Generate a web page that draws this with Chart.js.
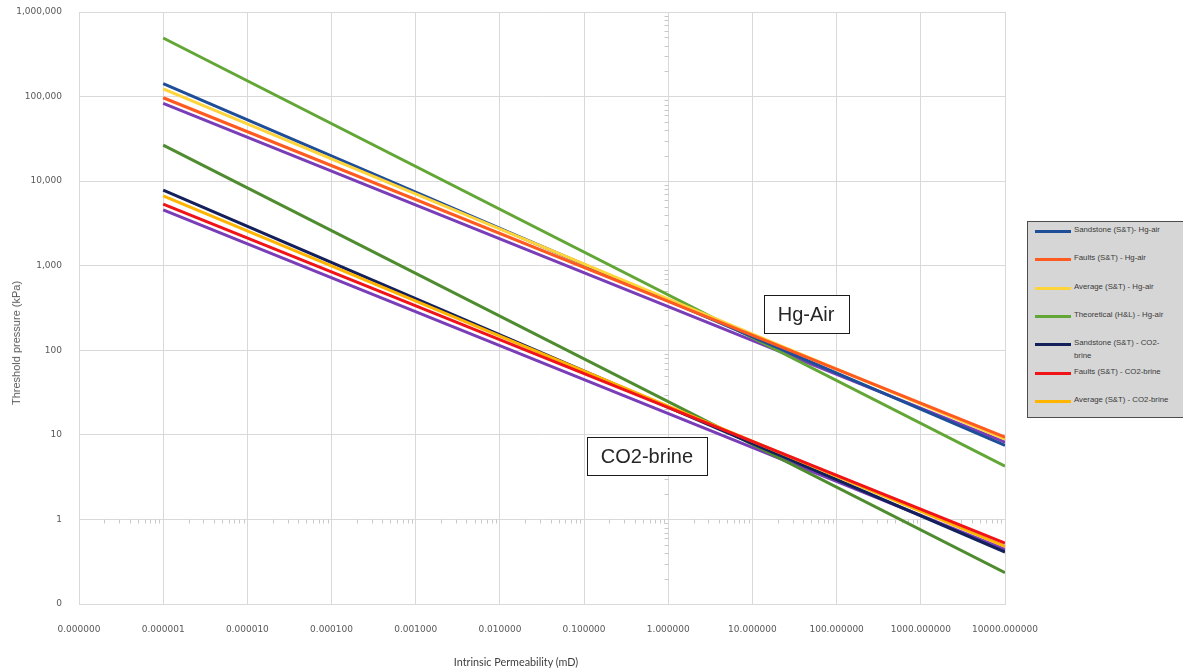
<!DOCTYPE html>
<html>
<head>
<meta charset="utf-8">
<script src="https://cdn.jsdelivr.net/npm/chart.js@4"></script>
<style>
  html, body { margin: 0; padding: 0; background: #fff; }
  #wrap { position: relative; width: 1183px; height: 672px; overflow: hidden; }
  #c { position: absolute; left: 0; top: 0; }
  .ytitle { position: absolute; left: 16px; top: 343px; transform: translate(-50%, -50%) rotate(-90deg);
            font-family: "Liberation Sans", Arial, sans-serif; font-size: 11px; color: #595959; white-space: nowrap; }
  .xtitle { position: absolute; left: 516px; top: 661px; transform: translate(-50%, -50%);
            font-family: "Lato", "Liberation Sans", sans-serif; font-size: 10.8px; color: #404040; white-space: nowrap; }
  #legend { position: absolute; left: 1027px; top: 221px; width: 175px; height: 197px; background: #d6d6d6;
            border: 1px solid #4d4d4d; box-sizing: border-box; font-family: "Liberation Sans", Arial, sans-serif; font-size: 7.8px; color: #3a3a3a; }
  .li { position: absolute; left: 7px; }
  .sw { position: absolute; left: 0; width: 36px; height: 3px; }
  .lt { position: absolute; left: 39px; white-space: nowrap; line-height: 13px; }
</style>
</head>
<body>
<div id="wrap">
  <canvas id="c" width="1183" height="672"></canvas>
  <div class="ytitle">Threshold pressure (kPa)</div>
  <div class="xtitle">Intrinsic Permeability (mD)</div>
  <div id="legend"></div>
</div>
<script>
// ---- data ----
const permeability = [0.000001, 10000];

const sandstoneHgAir   = [142600, 7.5];
const faultsHgAir      = [96800, 9.4];
const averageHgAir     = [123600, 8.9];
const theoreticalHgAir = [493000, 4.27];
const purpleHgAir      = [83000, 8.2];

const sandstoneCO2   = [7810, 0.412];
const faultsCO2      = [5340, 0.526];
const averageCO2     = [6690, 0.48];
const theoreticalCO2 = [26700, 0.235];
const purpleCO2      = [4570, 0.442];

const seriesLabels = [
  'Sandstone (S&T)- Hg-air',
  'Faults (S&T) - Hg-air',
  'Average (S&T) - Hg-air',
  'Theoretical (H&L) -  Hg-air',
  'Sandstone (S&T) - CO2-brine',
  'Faults (S&T) - CO2-brine',
  'Average (S&T) - CO2-brine',
  'Hg-air (other)',
  'Theoretical - CO2-brine',
  'CO2-brine (other)'
];

const xTickValues = [1e-7, 1e-6, 1e-5, 1e-4, 1e-3, 1e-2, 1e-1, 1, 10, 100, 1000, 10000];
const xTickLabels = ['0.000000', '0.000001', '0.000010', '0.000100', '0.001000', '0.010000',
                     '0.100000', '1.000000', '10.000000', '100.000000', '1000.000000', '10000.000000'];
const yTickValues = [0.1, 1, 10, 100, 1000, 10000, 100000, 1000000];
const yTickLabels = ['0', '1', '10', '100', '1,000', '10,000', '100,000', '1,000,000'];

const annotationTexts = ['Hg-Air', 'CO2-brine'];
const annotationX = [43.3, 0.558];
const annotationY = [268, 5.62];

// ---- build ----
const seriesValues = [sandstoneHgAir, faultsHgAir, averageHgAir, theoreticalHgAir,
                      sandstoneCO2, faultsCO2, averageCO2, purpleHgAir, theoreticalCO2, purpleCO2];
const seriesColors = ['#1F4E99', '#FF5A1F', '#FFD43B', '#62A635',
                      '#13205C', '#F01419', '#FFB400', '#7A3DB8', '#4F8C30', '#7A3DB8'];
const inLegend = [true, true, true, true, true, true, true, false, false, false];
const legendSplit = [null, null, null, null, 'CO2-', null, null, null, null, null];

const datasets = seriesValues.map((vals, i) => ({
  label: seriesLabels[i],
  data: vals.map((v, j) => ({ x: permeability[j], y: v })),
  borderColor: seriesColors[i],
  backgroundColor: seriesColors[i],
  borderWidth: 3,
  pointRadius: 0,
  fill: false,
  tension: 0
}));
const drawOrder = [7, 9, 8, 3, 0, 2, 1, 4, 6, 5];
datasets.forEach((d, i) => { d.order = 10 - drawOrder.indexOf(i); });

// HTML legend from dataset list
const legendEl = document.getElementById('legend');
let row = 0;
datasets.forEach((d, i) => {
  if (!inLegend[i]) return;
  const top = 8 + row * 28.3;
  const item = document.createElement('div');
  item.className = 'li';
  item.style.top = top + 'px';
  const sw = document.createElement('div');
  sw.className = 'sw';
  sw.style.background = d.borderColor;
  sw.style.top = '0px';
  const lt = document.createElement('div');
  lt.className = 'lt';
  lt.style.top = '-7px';
  if (legendSplit[i]) {
    const k = d.label.indexOf(legendSplit[i]) + legendSplit[i].length;
    lt.appendChild(document.createTextNode(d.label.slice(0, k)));
    lt.appendChild(document.createElement('br'));
    lt.appendChild(document.createTextNode(d.label.slice(k)));
  } else {
    lt.textContent = d.label;
  }
  item.appendChild(sw);
  item.appendChild(lt);
  legendEl.appendChild(item);
  row++;
});

// minor ticks along the crossing axes (x axis crosses at y=1, y axis crosses at x=1)
const crossTicks = {
  id: 'crossTicks',
  beforeDatasetsDraw(chart) {
    const { ctx, scales: { x, y } } = chart;
    ctx.save();
    ctx.strokeStyle = '#c8c8c8';
    ctx.lineWidth = 1;
    const y1 = Math.round(y.getPixelForValue(1)) + 0.5;
    for (let e = -7; e < 4; e++) {
      for (let m = 2; m <= 9; m++) {
        const px = Math.round(x.getPixelForValue(m * Math.pow(10, e))) + 0.5;
        ctx.beginPath(); ctx.moveTo(px, y1); ctx.lineTo(px, y1 + 4); ctx.stroke();
      }
    }
    const x1 = Math.round(x.getPixelForValue(1)) + 0.5;
    for (let e = -1; e < 6; e++) {
      for (let m = 2; m <= 9; m++) {
        const py = Math.round(y.getPixelForValue(m * Math.pow(10, e))) + 0.5;
        ctx.beginPath(); ctx.moveTo(x1 - 4, py); ctx.lineTo(x1, py); ctx.stroke();
      }
    }
    ctx.restore();
  }
};

// label boxes placed in data coordinates
const labelBoxes = {
  id: 'labelBoxes',
  afterDatasetsDraw(chart) {
    const { ctx, scales: { x, y } } = chart;
    ctx.save();
    ctx.font = '20px "Liberation Sans", Arial, sans-serif';
    ctx.textAlign = 'center';
    ctx.textBaseline = 'middle';
    annotationTexts.forEach((t, i) => {
      const cx = x.getPixelForValue(annotationX[i]);
      const cy = y.getPixelForValue(annotationY[i]);
      const w = Math.round(ctx.measureText(t).width + 28);
      const h = 38;
      const lx = Math.round(cx - w / 2) + 0.5, ty = Math.round(cy - h / 2) + 0.5;
      ctx.fillStyle = '#ffffff';
      ctx.fillRect(lx, ty, w, h);
      ctx.strokeStyle = '#1a1a1a';
      ctx.lineWidth = 1;
      ctx.strokeRect(lx, ty, w, h);
      ctx.fillStyle = '#262626';
      ctx.fillText(t, cx, cy + 1);
    });
    ctx.restore();
  }
};

const tickFont = { family: '"DejaVu Sans", sans-serif', size: 9 };
const gridColor = '#d9d9d9';

new Chart(document.getElementById('c'), {
  type: 'line',
  data: { datasets },
  options: {
    responsive: false,
    animation: false,
    layout: { padding: { left: 0, right: 178, top: 12, bottom: 0 } },
    plugins: { legend: { display: false }, tooltip: { enabled: false }, title: { display: false } },
    scales: {
      x: {
        type: 'logarithmic',
        min: xTickValues[0],
        max: xTickValues[xTickValues.length - 1],
        afterBuildTicks: (s) => { s.ticks = xTickValues.map(v => ({ value: v })); },
        afterFit: (s) => { s.height = 68; s.paddingLeft = 0; s.paddingRight = 0; },
        grid: { color: gridColor, drawTicks: false, lineWidth: 1 },
        border: { color: gridColor },
        ticks: {
          autoSkip: false, maxRotation: 0, minRotation: 0, padding: 20,
          color: '#595959', font: tickFont,
          callback: (v) => { const k = xTickValues.findIndex(t => Math.abs(Math.log10(t) - Math.log10(v)) < 1e-6); return k >= 0 ? xTickLabels[k] : ''; }
        }
      },
      y: {
        type: 'logarithmic',
        min: yTickValues[0],
        max: yTickValues[yTickValues.length - 1],
        afterBuildTicks: (s) => { s.ticks = yTickValues.map(v => ({ value: v })); },
        afterFit: (s) => { s.width = 79; s.paddingTop = 0; s.paddingBottom = 0; },
        grid: { color: gridColor, drawTicks: false, lineWidth: 1 },
        border: { color: gridColor },
        ticks: {
          autoSkip: false, padding: 17,
          color: '#595959', font: tickFont,
          callback: (v) => { const k = yTickValues.findIndex(t => Math.abs(Math.log10(t) - Math.log10(v)) < 1e-6); return k >= 0 ? yTickLabels[k] : ''; }
        }
      }
    }
  },
  plugins: [crossTicks, labelBoxes]
});
</script>
</body>
</html>
